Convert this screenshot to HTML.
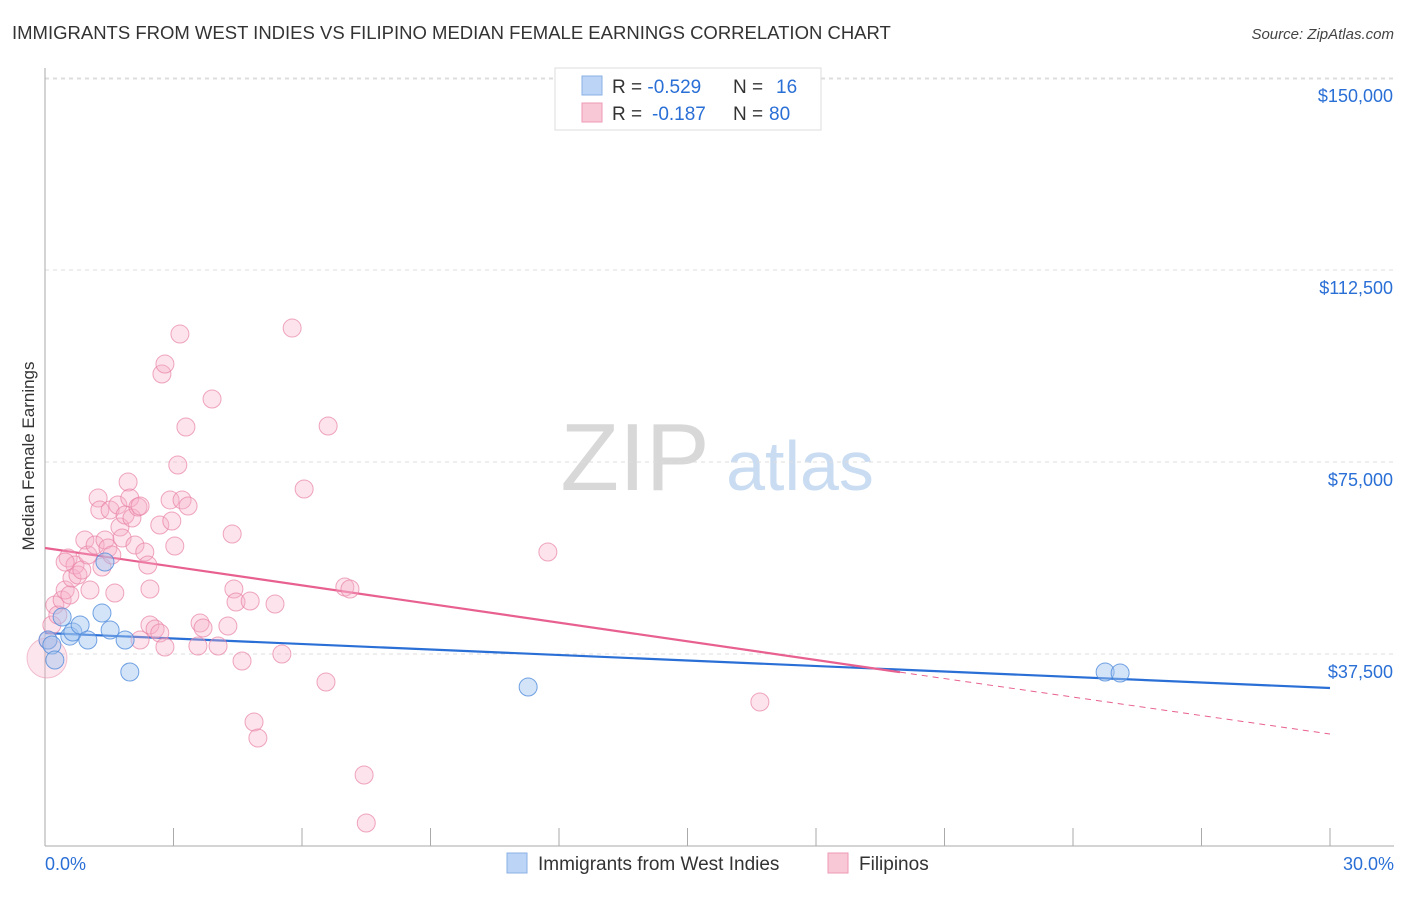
<!DOCTYPE html>
<html><head><meta charset="utf-8">
<style>
body{margin:0;background:#fff;font-family:"Liberation Sans",sans-serif;}
svg text{font-family:"Liberation Sans",sans-serif;}
</style></head>
<body>
<svg id="chart" width="1406" height="892" xmlns="http://www.w3.org/2000/svg">
<text x="12" y="39" font-size="18.5" fill="#333">IMMIGRANTS FROM WEST INDIES VS FILIPINO MEDIAN FEMALE EARNINGS CORRELATION CHART</text>
<text x="1394" y="39" font-size="15" fill="#444" text-anchor="end" font-style="italic">Source: ZipAtlas.com</text>
<text transform="translate(34,456) rotate(-90)" font-size="17" fill="#333" text-anchor="middle">Median Female Earnings</text>
<g>
<text x="635" y="490" font-size="96" fill="#d8d8d8" font-family="Liberation Serif,serif" text-anchor="middle">ZIP</text>
<text x="800" y="490" font-size="70" fill="#c9dcf2" text-anchor="middle">atlas</text>
</g>
<g id="grid"></g>
<g id="axes"></g>
<g id="lines"></g>
<g id="points"></g>
<g>
<rect x="555" y="68" width="266" height="62" fill="#fff" stroke="#ddd"/>
<rect x="582" y="76" width="20" height="19" fill="#bcd4f6" stroke="#8ab0e6"/>
<rect x="582" y="103" width="20" height="19" fill="#f9c8d6" stroke="#ee9ab5"/>
<text x="612" y="93" font-size="19" fill="#333">R = <tspan fill="#2a6fd6">-0.529</tspan><tspan x="733">N = </tspan><tspan x="776" fill="#2a6fd6">16</tspan></text>
<text x="612" y="120" font-size="19" fill="#333">R = <tspan x="652" fill="#2a6fd6">-0.187</tspan><tspan x="733">N = </tspan><tspan x="769" fill="#2a6fd6">80</tspan></text>
</g>
<g>
<rect x="507" y="853" width="20" height="20" fill="#bcd4f6" stroke="#8ab0e6"/>
<text x="538" y="870" font-size="19" fill="#333">Immigrants from West Indies</text>
<rect x="828" y="853" width="20" height="20" fill="#f9c8d6" stroke="#ee9ab5"/>
<text x="859" y="870" font-size="19" fill="#333">Filipinos</text>
</g>
</svg>
<script>
const yTicks=[37500,75000,112500,150000];
const yTickLabels=["$37,500","$75,000","$112,500","$150,000"];
const xTickVals=[0,3,6,9,12,15,18,21,24,27,30];
const blueX=[0.07,0.16,0.23,0.40,0.58,0.65,0.82,1.0,1.33,1.40,1.52,1.87,1.98,11.28,24.75,25.1];
const blueY=[40230,39260,36330,44720,41000,41800,43160,40230,45500,55470,42190,40230,33980,31050,33980,33790];
const pinkX=[0.07,0.16,0.23,0.30,0.40,0.47,0.54,0.58,0.63,0.70,0.77,0.86,0.93,1.0,1.05,1.17,1.24,1.28,1.33,1.40,1.47,1.52,1.56,1.63,1.70,1.75,1.80,1.87,1.94,1.98,2.03,2.10,2.17,2.22,2.33,2.40,2.45,2.45,2.57,2.68,2.80,2.68,2.92,2.96,3.03,3.10,3.15,3.20,3.29,3.34,2.73,2.80,3.62,3.57,3.69,3.90,4.04,4.27,4.37,4.41,4.46,4.60,4.79,4.88,4.97,5.37,5.53,5.77,6.05,6.56,6.61,7.00,7.12,7.45,7.50,11.74,16.69,0.47,2.22];
const pinkY=[40230,43160,47070,45120,48050,50000,56250,49020,52340,54880,52930,53910,59770,56840,50000,58790,67960,65620,54490,59770,58200,65620,56840,49410,66600,62300,60150,64650,71090,67960,64060,58790,66210,66410,57420,54880,50200,43160,42380,41600,38870,62690,67580,63480,58590,74410,99990,67580,81840,66410,92190,94140,43550,39060,42580,87300,39060,42970,60940,50200,47660,36130,47850,24220,21090,47270,37500,101160,69730,32030,82030,50590,50200,13870,4490,57420,28130,55470,40230];
const bigX=[0.0], bigY=[36720];
const blueTrendX=[0,30], blueTrendY=[41600,30860];
const pinkTrendX=[0,19.96,30], pinkTrendY=[58200,33950,21870];
const X=v=>45+v/30*1285, Y=v=>846-v/195.3125;
const NS="http://www.w3.org/2000/svg";
function mk(parent,tag,attrs){const e=document.createElementNS(NS,tag);for(const k in attrs)e.setAttribute(k,attrs[k]);document.getElementById(parent).appendChild(e);return e;}
yTicks.forEach((t,i)=>{
 const l=mk('grid','line',{x1:45,x2:1394,y1:Y(t),y2:Y(t),stroke:'#ddd','stroke-dasharray':'4,4'});
 
 
 const tx=mk('grid','text',{x:1393,y:Y(t)+24,'font-size':18,fill:'#2a6fd6','text-anchor':'end'});
 tx.textContent=yTickLabels[i];
 
 
});
const topGrid=mk('grid','line',{x1:45,x2:1394,y1:79,y2:79,stroke:'#ddd','stroke-dasharray':'4,4'});


const ya=mk('axes','line',{x1:45,x2:45,y1:68,y2:846,stroke:'#aaa'});


const xa=mk('axes','line',{x1:45,x2:1394,y1:846,y2:846,stroke:'#aaa'});


xTickVals.forEach(v=>{
 const t=mk('axes','line',{x1:X(v),x2:X(v),y1:828,y2:846,stroke:'#aaa'});
 
 
});
const xl0=mk('axes','text',{x:45,y:870,'font-size':18,fill:'#2a6fd6'});xl0.textContent='0.0%';


const xl1=mk('axes','text',{x:1394,y:870,'font-size':18,fill:'#2a6fd6','text-anchor':'end'});xl1.textContent='30.0%';


const big=mk('points','circle',{cx:X(bigX[0])+2,cy:Y(bigY[0]),r:20,fill:'rgba(244,170,195,0.3)',stroke:'rgba(232,138,168,0.5)'});


pinkX.forEach((x,i)=>{
 const c=mk('points','circle',{cx:X(x),cy:Y(pinkY[i]),r:9,fill:'rgba(246,175,200,0.35)',stroke:'rgba(232,130,165,0.7)'});
 
 
});
blueX.forEach((x,i)=>{
 const c=mk('points','circle',{cx:X(x),cy:Y(blueY[i]),r:9,fill:'rgba(160,196,240,0.45)',stroke:'rgba(80,140,220,0.8)'});
 
 
});
const bl=mk('lines','line',{x1:X(blueTrendX[0]),y1:Y(blueTrendY[0]),x2:X(blueTrendX[1]),y2:Y(blueTrendY[1]),stroke:'#2a6fd6','stroke-width':2.2});


const pl=mk('lines','line',{x1:X(pinkTrendX[0]),y1:Y(pinkTrendY[0]),x2:X(pinkTrendX[1]),y2:Y(pinkTrendY[1]),stroke:'#e8608f','stroke-width':2.2});


const pd=mk('lines','line',{x1:X(pinkTrendX[1]),y1:Y(pinkTrendY[1]),x2:X(pinkTrendX[2]),y2:Y(pinkTrendY[2]),stroke:'#e8608f','stroke-width':1,'stroke-dasharray':'6,5'});


</script>
</body></html>
